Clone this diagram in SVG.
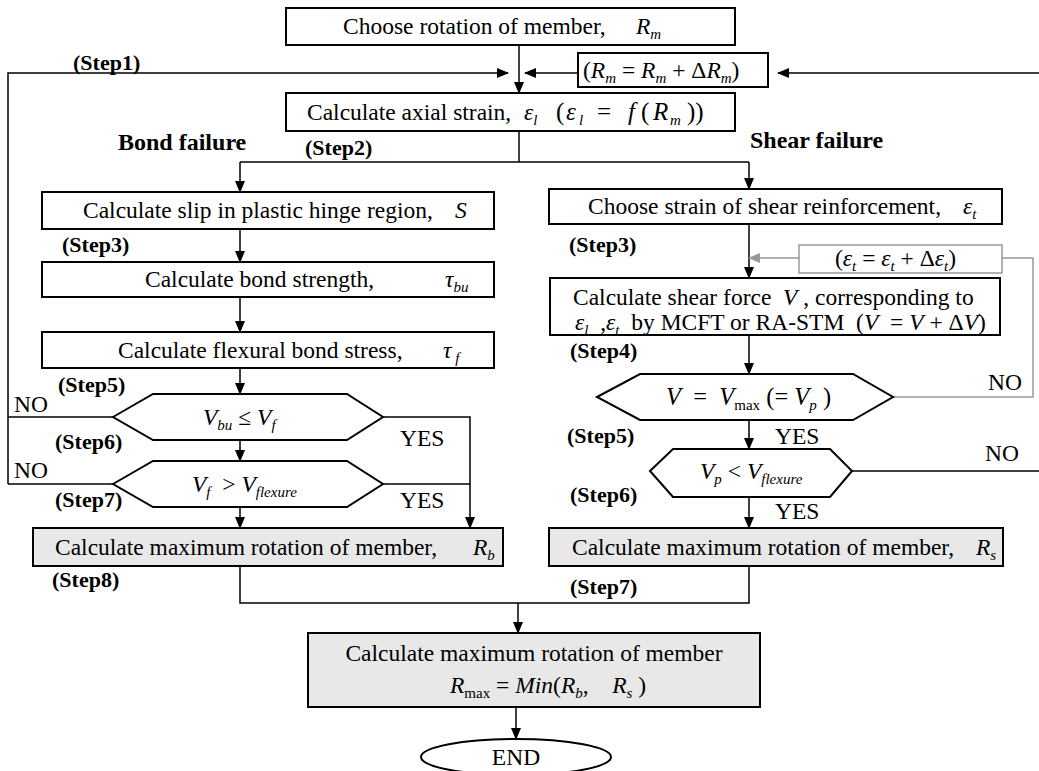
<svg xmlns="http://www.w3.org/2000/svg" width="1039" height="771" viewBox="0 0 1039 771" font-family="'Liberation Serif', Tinos, 'DejaVu Serif', serif">
<style>
text{font-family:'Liberation Serif',Tinos,'DejaVu Serif',serif;font-size:23.5px;fill:#000;white-space:pre}
.b{font-weight:bold;font-size:22px}
.t{font-weight:bold;font-size:24px}
.i{font-style:italic}
.s{font-size:15px}
.box{fill:#fff;stroke:#000;stroke-width:2}
.gbox{fill:#e8e8e8;stroke:#000;stroke-width:2}
.ln{fill:none;stroke:#000;stroke-width:1.5}
.gl{fill:none;stroke:#999;stroke-width:1.5}
.gb{fill:#fff;stroke:#999;stroke-width:1.5}
</style>
<defs>
<marker id="ar" markerWidth="12" markerHeight="10" refX="11" refY="5" orient="auto" markerUnits="userSpaceOnUse"><path d="M0,0 L12,5 L0,10 z" fill="#000"/></marker>
<marker id="ag" markerWidth="12" markerHeight="10" refX="11" refY="5" orient="auto" markerUnits="userSpaceOnUse"><path d="M0,0 L12,5 L0,10 z" fill="#999"/></marker>
</defs>
<rect width="1039" height="771" fill="#fff"/>

<g id="connectors">
<path class="ln" d="M519,45 V93" marker-end="url(#ar)"/>
<path class="ln" d="M8,484 V73 H508" marker-end="url(#ar)"/>
<path class="ln" d="M578,73 H525" marker-end="url(#ar)"/>
<path class="ln" d="M1039,73 H778" marker-end="url(#ar)"/>
<path class="ln" d="M519,131 V162"/>
<path class="ln" d="M240,162 H749"/>
<path class="ln" d="M240,162 V192" marker-end="url(#ar)"/>
<path class="ln" d="M749,162 V189" marker-end="url(#ar)"/>
<path class="ln" d="M240,229 V262" marker-end="url(#ar)"/>
<path class="ln" d="M240,297 V332" marker-end="url(#ar)"/>
<path class="ln" d="M240,368 V394" marker-end="url(#ar)"/>
<path class="ln" d="M240,440 V461" marker-end="url(#ar)"/>
<path class="ln" d="M240,507 V528" marker-end="url(#ar)"/>
<path class="ln" d="M113,417 H8"/>
<path class="ln" d="M113,484 H8"/>
<path class="ln" d="M383,417 H470 V528" marker-end="url(#ar)"/>
<path class="ln" d="M383,484 H470"/>
<path class="ln" d="M749,224 V278" marker-end="url(#ar)"/>
<path class="gl" d="M799,258 H749" marker-end="url(#ag)"/>
<path class="gl" d="M1002,258 H1033 V397 H893"/>
<path class="ln" d="M749,335 V374" marker-end="url(#ar)"/>
<path class="ln" d="M749,420 V449" marker-end="url(#ar)"/>
<path class="ln" d="M852,471 H1039"/>
<path class="ln" d="M749,497 V528" marker-end="url(#ar)"/>
<path class="ln" d="M240,566 V603 H749 V566"/>
<path class="ln" d="M518,603 V633" marker-end="url(#ar)"/>
<path class="ln" d="M516,707 V739" marker-end="url(#ar)"/>
</g>

<g id="n-choose-rotation">
<rect class="box" x="286" y="8" width="449" height="37"/>
<text x="343" y="34">Choose rotation of member,</text>
<text x="636" y="34"><tspan class="i">R</tspan><tspan class="i s" dy="5">m</tspan></text>
</g>

<g id="n-increment-r">
<rect class="box" x="578" y="53" width="190" height="34"/>
<text x="583" y="78">(<tspan class="i">R</tspan><tspan class="i s" dy="5">m</tspan><tspan dy="-5"> = </tspan><tspan class="i">R</tspan><tspan class="i s" dy="5">m</tspan><tspan dy="-5"> + Δ</tspan><tspan class="i">R</tspan><tspan class="i s" dy="5">m</tspan><tspan dy="-5">)</tspan></text>
</g>

<g id="n-axial">
<rect class="box" x="286" y="93" width="449" height="38"/>
<text x="307" y="120">Calculate axial strain,</text>
<text x="524" y="120"><tspan class="i">ε</tspan><tspan class="i s" dy="5">l</tspan></text>
<text y="120" style="font-size:25px"><tspan x="556">(</tspan><tspan class="i" x="566">ε</tspan><tspan class="i s" x="579" dy="5">l</tspan><tspan x="597" dy="-5">=</tspan><tspan class="i" x="628">f</tspan><tspan x="641">(</tspan><tspan class="i" x="653">R</tspan><tspan class="i s" x="670" dy="5">m</tspan><tspan x="687" dy="-5">))</tspan></text>
</g>

<g id="labels">
<text class="b" x="73" y="70">(Step1)</text>
<text class="b" x="305" y="155">(Step2)</text>
<text class="t" x="118" y="150">Bond failure</text>
<text class="t" x="750" y="148">Shear failure</text>
<text class="b" x="62" y="252">(Step3)</text>
<text class="b" x="58" y="290">(Step4)</text>
<text class="b" x="58" y="392">(Step5)</text>
<text class="b" x="55" y="449">(Step6)</text>
<text class="b" x="55" y="507">(Step7)</text>
<text class="b" x="52" y="587">(Step8)</text>
<text x="14" y="412">NO</text>
<text x="14" y="478">NO</text>
<text x="400" y="446">YES</text>
<text x="400" y="508">YES</text>
<text class="b" x="569" y="252">(Step3)</text>
<text class="b" x="570" y="358">(Step4)</text>
<text class="b" x="567" y="443">(Step5)</text>
<text class="b" x="570" y="502">(Step6)</text>
<text class="b" x="570" y="594">(Step7)</text>
<text x="988" y="390">NO</text>
<text x="985" y="461">NO</text>
<text x="775" y="444">YES</text>
<text x="775" y="519">YES</text>
</g>

<g id="n-slip">
<rect class="box" x="42" y="192" width="452" height="37"/>
<text x="83" y="218">Calculate slip in plastic hinge region,</text>
<text class="i" x="455" y="218">S</text>
</g>

<g id="n-bond-strength">
<rect class="box" x="42" y="262" width="452" height="35"/>
<text x="145" y="287">Calculate bond strength,</text>
<text x="445" y="287"><tspan class="i">τ</tspan><tspan class="i s" dy="5">bu</tspan></text>
</g>

<g id="n-flexural-bond">
<rect class="box" x="42" y="332" width="452" height="36"/>
<text x="118" y="358">Calculate flexural bond stress,</text>
<text x="443" y="358"><tspan class="i">τ</tspan><tspan class="i s" dy="5"> f</tspan></text>
</g>

<g id="n-check-vbu">
<polygon class="box" points="113,417 153,394 347,394 383,417 347,440 153,440"/>
<text x="203" y="425"><tspan class="i">V</tspan><tspan class="i s" dy="5">bu</tspan><tspan dy="-5"> ≤ </tspan><tspan class="i">V</tspan><tspan class="i s" dy="5">f</tspan></text>
</g>

<g id="n-check-vf">
<polygon class="box" points="113,484 153,461 347,461 383,484 347,507 153,507"/>
<text x="192" y="492"><tspan class="i">V</tspan><tspan class="i s" dy="5">f</tspan><tspan dy="-5">  &gt; </tspan><tspan class="i">V</tspan><tspan class="i s" dy="5">flexure</tspan></text>
</g>

<g id="n-rb">
<rect class="gbox" x="33" y="528" width="470" height="38"/>
<text x="55" y="555">Calculate maximum rotation of member,</text>
<text x="473" y="555"><tspan class="i">R</tspan><tspan class="i s" dy="5">b</tspan></text>
</g>

<g id="n-choose-strain">
<rect class="box" x="549" y="189" width="453" height="35"/>
<text x="588" y="214">Choose strain of shear reinforcement,</text>
<text x="963" y="214"><tspan class="i">ε</tspan><tspan class="i s" dy="5">t</tspan></text>
</g>

<g id="n-increment-e">
<rect class="gb" x="799" y="245" width="203" height="28"/>
<text x="835" y="266">(<tspan class="i">ε</tspan><tspan class="i s" dy="5">t</tspan><tspan dy="-5"> = </tspan><tspan class="i">ε</tspan><tspan class="i s" dy="5">t</tspan><tspan dy="-5"> + Δ</tspan><tspan class="i">ε</tspan><tspan class="i s" dy="5">t</tspan><tspan dy="-5">)</tspan></text>
</g>

<g id="n-shear-force">
<rect class="box" x="550" y="278" width="450" height="57"/>
<text x="573" y="305">Calculate shear force  <tspan class="i">V</tspan> , corresponding to</text>
<text x="575" y="330"><tspan class="i">ε</tspan><tspan class="i s" dy="5">l</tspan><tspan dy="-5">  ,</tspan><tspan class="i">ε</tspan><tspan class="i s" dy="5">t</tspan><tspan dy="-5">  by MCFT or RA-STM  (</tspan><tspan class="i">V</tspan>  = <tspan class="i">V</tspan> + Δ<tspan class="i">V</tspan>)</text>
</g>

<g id="n-check-vmax">
<polygon class="box" points="597,397 640,374 853,374 893,397 853,420 640,420"/>
<text x="666" y="405" style="font-size:24.5px"><tspan class="i">V</tspan>  =  <tspan class="i">V</tspan><tspan class="s" dy="5">max</tspan><tspan dy="-5"> (= </tspan><tspan class="i">V</tspan><tspan class="i s" dy="5">p</tspan><tspan dy="-5"> )</tspan></text>
</g>

<g id="n-check-vp">
<polygon class="box" points="650,471 673,449 830,449 852,471 830,497 673,497"/>
<text x="700" y="479"><tspan class="i">V</tspan><tspan class="i s" dy="5">p</tspan><tspan dy="-5"> &lt; </tspan><tspan class="i">V</tspan><tspan class="i s" dy="5">flexure</tspan></text>
</g>

<g id="n-rs">
<rect class="gbox" x="549" y="528" width="454" height="38"/>
<text x="572" y="555">Calculate maximum rotation of member,</text>
<text x="976" y="555"><tspan class="i">R</tspan><tspan class="i s" dy="5">s</tspan></text>
</g>

<g id="n-rmax">
<rect class="gbox" x="308" y="633" width="452" height="74"/>
<text x="534" y="661" text-anchor="middle">Calculate maximum rotation of member</text>
<text x="450" y="693"><tspan class="i">R</tspan><tspan class="s" dy="5">max</tspan><tspan dy="-5"> = </tspan><tspan class="i">Min</tspan>(<tspan class="i">R</tspan><tspan class="i s" dy="5">b</tspan><tspan dy="-5">,    </tspan><tspan class="i">R</tspan><tspan class="i s" dy="5">s</tspan><tspan dy="-5"> )</tspan></text>
</g>

<g id="n-end">
<ellipse cx="516" cy="757" rx="95" ry="18" fill="#fff" stroke="#000" stroke-width="2"/>
<text x="516" y="765" text-anchor="middle">END</text>
</g>
</svg>
